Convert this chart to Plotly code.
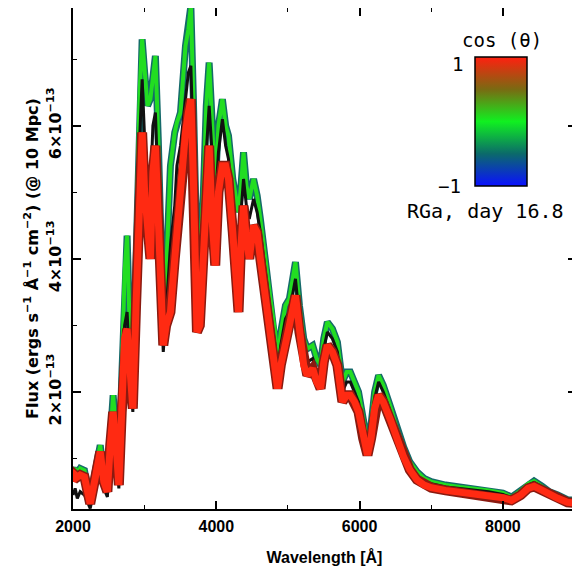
import plotly.graph_objects as go

# Wavelength grid (Angstrom)
wavelength = [2000, 2030, 2060, 2100, 2160, 2200, 2240, 2300, 2380, 2430, 2480, 2520, 2560, 2600, 2640,
              2680, 2720, 2755, 2790, 2835, 2880, 2930, 2965, 3000, 3040, 3080, 3115, 3150, 3190, 3230,
              3260, 3300, 3360, 3420, 3450, 3500, 3570, 3610, 3645, 3680, 3700, 3730, 3770, 3820, 3860,
              3900, 3940, 3985, 4030, 4085, 4130, 4170, 4230, 4310, 4345, 4380, 4420, 4460, 4520, 4570,
              4615, 4680, 4755, 4820, 4855, 4900, 4965, 5020, 5105, 5160, 5220, 5270, 5345, 5400, 5455,
              5500, 5550, 5620, 5690, 5760, 5820, 5870, 5930, 5985, 6050, 6110, 6160, 6210, 6265, 6330,
              6430, 6520, 6615, 6700, 6800, 6900, 7000, 7200, 7400, 7600, 7800, 8000, 8120, 8250, 8350,
              8435, 8550, 8650, 8765, 8900, 9020]

# Flux in units of 1e-13 erg s^-1 A^-1 cm^-2 (@ 10 Mpc)
flux_cos0 = [0.80, 0.85, 0.78, 0.85, 0.82, 0.55, 0.35, 0.75, 1.20, 0.75, 0.55, 1.30, 1.95, 1.40, 0.65,
             2.20, 3.80, 4.35, 3.00, 2.10, 4.00, 6.50, 7.30, 6.80, 6.30, 6.40, 6.80, 7.05, 5.80, 4.00,
             3.00, 3.80, 5.40, 5.90, 6.05, 6.20, 7.20, 7.45, 7.80, 6.40, 4.80, 4.00, 4.10, 5.00, 6.30,
             6.95, 6.10, 5.10, 6.00, 6.40, 6.00, 5.85, 5.20, 4.70, 5.10, 5.60, 5.10, 4.90, 5.20, 4.95,
             4.60, 4.00, 3.40, 2.90, 2.45, 2.90, 3.30, 3.40, 3.95, 3.30, 2.80, 2.65, 2.70, 2.50, 2.40,
             2.80, 3.05, 2.95, 2.75, 2.15, 2.30, 2.30, 2.15, 2.00, 1.60, 1.25, 1.50, 2.00, 2.25, 2.10,
             1.78, 1.45, 1.17, 0.95, 0.80, 0.70, 0.65, 0.60, 0.57, 0.55, 0.52, 0.48, 0.42, 0.52, 0.62,
             0.66, 0.58, 0.50, 0.45, 0.38, 0.37]

flux_mean = [0.45, 0.55, 0.40, 0.50, 0.45, 0.35, 0.25, 0.55, 0.95, 0.55, 0.42, 1.10, 1.60, 1.10, 0.55,
             1.80, 3.00, 3.20, 2.40, 1.70, 3.40, 5.80, 6.70, 5.80, 5.00, 5.00, 6.00, 6.20, 5.00, 3.40,
             2.60, 3.20, 4.20, 4.80, 5.40, 5.70, 6.40, 6.80, 6.90, 5.60, 4.20, 3.80, 3.70, 4.50, 5.60,
             6.30, 5.60, 4.80, 5.60, 6.10, 5.70, 5.50, 4.80, 4.20, 4.70, 5.20, 4.80, 4.60, 4.90, 4.70,
             4.40, 3.80, 3.20, 2.70, 2.30, 2.70, 3.10, 3.20, 3.70, 3.10, 2.60, 2.45, 2.50, 2.30, 2.25,
             2.65, 2.90, 2.80, 2.60, 2.00, 2.15, 2.15, 2.00, 1.85, 1.45, 1.15, 1.40, 1.90, 2.15, 2.00,
             1.70, 1.38, 1.10, 0.90, 0.75, 0.66, 0.62, 0.57, 0.55, 0.53, 0.50, 0.46, 0.41, 0.50, 0.60,
             0.64, 0.57, 0.49, 0.44, 0.37, 0.36]

flux_cos1 = [0.65, 0.75, 0.72, 0.75, 0.72, 0.50, 0.32, 0.65, 1.10, 0.65, 0.50, 1.20, 1.70, 1.20, 0.60,
             1.70, 2.80, 2.95, 2.30, 1.75, 3.30, 5.20, 5.90, 5.00, 4.50, 4.00, 5.30, 5.70, 4.60, 3.20,
             2.70, 3.00, 3.20, 4.00, 4.40, 5.00, 5.90, 6.20, 6.40, 5.20, 3.80, 2.90, 3.00, 4.00, 5.20,
             5.70, 4.60, 3.90, 5.00, 5.40, 5.40, 5.20, 4.40, 3.20, 4.20, 4.80, 4.30, 4.00, 4.50, 4.40,
             4.00, 3.50, 3.00, 2.40, 2.05, 2.40, 2.80, 3.00, 3.45, 2.90, 2.40, 2.25, 2.35, 2.15, 2.05,
             2.45, 2.70, 2.60, 2.40, 1.85, 1.95, 1.95, 1.85, 1.70, 1.30, 1.05, 1.30, 1.75, 1.95, 1.85,
             1.58, 1.28, 1.02, 0.83, 0.68, 0.60, 0.56, 0.52, 0.49, 0.47, 0.45, 0.41, 0.37, 0.45, 0.55,
             0.58, 0.52, 0.45, 0.40, 0.34, 0.33]

x_tickvals = [2000, 4000, 6000, 8000]
x_ticktext = ["2000", "4000", "6000", "8000"]
y_tickvals = [2, 4, 6]
y_ticktext = ["2×10<sup>−13</sup>", "4×10<sup>−13</sup>", "6×10<sup>−13</sup>"]

cos_range = [-1, 1]
cos_colorscale = [[0.0, "#0a10ff"], [0.25, "#0b6a6a"], [0.5, "#10f020"], [0.75, "#7a6a12"], [1.0, "#ff2010"]]

fig = go.Figure()

# cos(theta) = 0 (green) with dark teal edge
fig.add_trace(go.Scatter(x=wavelength, y=flux_cos0, mode="lines",
                         line=dict(color="#156a6a", width=7), hoverinfo="skip", showlegend=False))
fig.add_trace(go.Scatter(x=wavelength, y=flux_cos0, mode="lines",
                         line=dict(color="#22dd22", width=4), showlegend=False))
# angle-averaged (black)
fig.add_trace(go.Scatter(x=wavelength, y=flux_mean, mode="lines",
                         line=dict(color="#111111", width=3), showlegend=False))
# cos(theta) = 1 (red) with dark edge
fig.add_trace(go.Scatter(x=wavelength, y=flux_cos1, mode="lines",
                         line=dict(color="#8a1a10", width=10), hoverinfo="skip", showlegend=False))
fig.add_trace(go.Scatter(x=wavelength, y=flux_cos1, mode="lines",
                         line=dict(color="#ff2a12", width=7), showlegend=False))

# page offset (default body margin of the html page)
OFF = 8
# plot area in window pixels
L, R, T, B = 73, 576, 8, 509
PW, PH = R - L, B - T
FIG_W, FIG_H = 580 - OFF, 569 - OFF


def px2paper_x(px):
    return (px - L) / PW


def px2paper_y(py):
    return (B - py) / PH


# colour bar (cos theta)
fig.add_trace(go.Scatter(
    x=[None], y=[None], mode="markers", showlegend=False, hoverinfo="skip",
    marker=dict(color=cos_range, cmin=-1, cmax=1, colorscale=cos_colorscale, showscale=True,
                colorbar=dict(x=px2paper_x(475), xanchor="left", y=px2paper_y(57), yanchor="top",
                              thickness=52, thicknessmode="pixels", len=129, lenmode="pixels",
                              xpad=0, ypad=0, outlinewidth=1.5, outlinecolor="black",
                              showticklabels=False, ticks=""))))

dv = "DejaVu Sans, sans-serif"
lib = "Liberation Sans, Arial, sans-serif"
fig.update_layout(
    width=FIG_W, height=FIG_H,
    margin=dict(l=L - OFF, r=FIG_W - (R - OFF), t=T - OFF, b=FIG_H - (B - OFF), autoexpand=False),
    paper_bgcolor="white", plot_bgcolor="white",
    font=dict(family=lib, size=12, color="black"),
    xaxis=dict(range=[2000, 9020], tickvals=x_tickvals, ticktext=x_ticktext, automargin=False,
               ticks="inside", ticklen=8, tickwidth=1.5, tickcolor="black", ticklabelstandoff=2,
               minor=dict(ticks="inside", ticklen=4, tickwidth=1.2, tickcolor="black",
                          tickvals=[3000, 5000, 7000, 9000]),
               showline=True, linecolor="black", linewidth=1.5, mirror="ticks",
               showgrid=False, zeroline=False,
               title=dict(text="Wavelength [Å]",
                          font=dict(family=lib, size=16, weight="bold"), standoff=18),
               tickfont=dict(family=lib, size=16, weight="bold")),
    yaxis=dict(range=[0.24, 7.77], tickvals=y_tickvals, ticktext=y_ticktext, automargin=False,
               tickangle=-90, ticklabelstandoff=4,
               ticks="inside", ticklen=8, tickwidth=1.5, tickcolor="black",
               minor=dict(ticks="inside", ticklen=4, tickwidth=1.2, tickcolor="black",
                          tickvals=[1, 3, 5, 7]),
               showline=True, linecolor="black", linewidth=1.5, mirror="ticks",
               showgrid=False, zeroline=False,
               title=dict(text="Flux (ergs s<sup>−1</sup> Å<sup>−1</sup> cm<sup>−2</sup>) (@ 10 Mpc)",
                          font=dict(family=dv, size=16, weight="bold"), standoff=2),
               tickfont=dict(family=dv, size=16, weight="bold")),
)

mono = "DejaVu Sans Mono, monospace"
annots = [
    dict(text="cos (θ)", px=502, py=40, anchor="center", size=19),
    dict(text="1", px=465, py=64, anchor="right", size=19),
    dict(text="−1", px=463, py=186, anchor="right", size=19),
    dict(text="RGa, day 16.8", px=566, py=211, anchor="right", size=20),
]
for a in annots:
    fig.add_annotation(x=px2paper_x(a["px"]), y=px2paper_y(a["py"]), xref="paper", yref="paper",
                       text=a["text"], showarrow=False, xanchor=a["anchor"], yanchor="middle",
                       font=dict(family=mono, size=a["size"], color="black"))

fig.write_html("out.html")
